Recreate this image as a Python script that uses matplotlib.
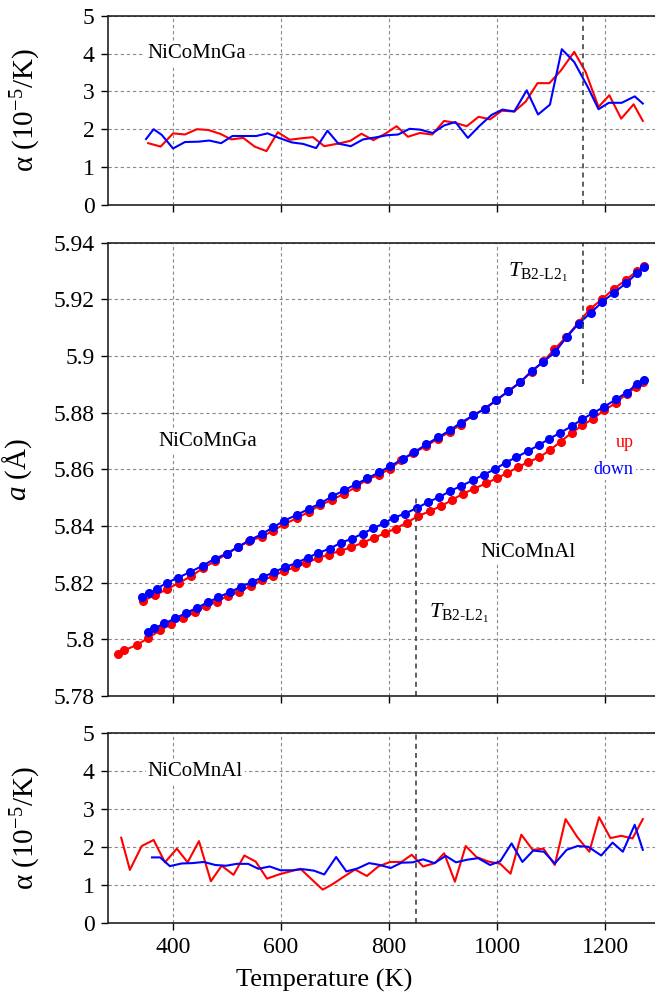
import matplotlib
matplotlib.use('Agg')
import matplotlib.pyplot as plt
from matplotlib.ticker import FormatStrFormatter

plt.rcParams['font.family'] = ['Liberation Serif', 'DejaVu Serif']
plt.rcParams['mathtext.fontset'] = 'custom'
plt.rcParams['mathtext.rm'] = 'Liberation Serif'
plt.rcParams['mathtext.it'] = 'Liberation Serif:italic'

# lattice parameter a (Angstrom), NiCoMnGa
ga_up_T = [344, 367, 388, 411, 433, 455, 477, 499, 520, 541, 564, 585, 606, 629, 651, 672, 694, 717, 738, 760,
           781, 801, 823, 845, 868, 890, 912, 933, 955, 977, 999, 1021, 1043, 1064, 1086, 1106, 1128, 1151, 1172, 1194,
           1217, 1238, 1259, 1272]
ga_up_a = [5.8136, 5.8156, 5.8176, 5.8200, 5.8222, 5.8251, 5.8275, 5.8301, 5.8325, 5.8347,
           5.8362, 5.8383, 5.8407, 5.8427, 5.8450, 5.8473, 5.8492, 5.8514, 5.8537, 5.8565,
           5.8580, 5.8602, 5.8632, 5.8658, 5.8681, 5.8708, 5.8732, 5.8758, 5.8790, 5.8814,
           5.8846, 5.8875, 5.8908, 5.8944, 5.8981, 5.9023, 5.9067, 5.9118, 5.9165, 5.9200,
           5.9238, 5.9267, 5.9300, 5.9317]
ga_down_T = [342, 356, 370, 388, 410, 432, 455, 477, 499, 520, 542, 564, 585, 606, 629, 652, 673, 695, 717, 738,
             760, 781, 801, 825, 847, 869, 891, 913, 933, 956, 978, 999, 1021, 1043, 1064, 1086, 1108, 1129, 1151, 1174,
             1195, 1217, 1239, 1260, 1272]
ga_down_a = [5.8149, 5.8162, 5.8179, 5.8199, 5.8218, 5.8238, 5.8260, 5.8284, 5.8302, 5.8326,
             5.8350, 5.8371, 5.8395, 5.8419, 5.8439, 5.8461, 5.8480, 5.8505, 5.8526, 5.8547,
             5.8568, 5.8589, 5.8610, 5.8636, 5.8661, 5.8688, 5.8713, 5.8738, 5.8765, 5.8790,
             5.8814, 5.8844, 5.8876, 5.8907, 5.8947, 5.8980, 5.9015, 5.9067, 5.9114, 5.9153,
             5.9191, 5.9224, 5.9257, 5.9293, 5.9314]

# lattice parameter a (Angstrom), NiCoMnAl
al_up_T = [298, 310, 333, 354, 376, 396, 418, 440, 461, 481, 501, 523, 544, 564, 585, 606, 626, 647, 668, 688,
           709, 730, 751, 772, 792, 812, 833, 854, 875, 896, 916, 937, 958, 979, 1000, 1019, 1038, 1058, 1078, 1098,
           1118, 1138, 1158, 1178, 1198, 1220, 1240, 1258, 1271]
al_up_a = [5.7947, 5.7962, 5.7980, 5.8005, 5.8032, 5.8053, 5.8075, 5.8095, 5.8119, 5.8133,
           5.8153, 5.8168, 5.8189, 5.8208, 5.8223, 5.8242, 5.8254, 5.8270, 5.8287, 5.8299,
           5.8312, 5.8325, 5.8341, 5.8358, 5.8374, 5.8391, 5.8412, 5.8435, 5.8452, 5.8470,
           5.8491, 5.8514, 5.8532, 5.8550, 5.8569, 5.8587, 5.8607, 5.8626, 5.8642, 5.8668,
           5.8698, 5.8729, 5.8755, 5.8779, 5.8808, 5.8834, 5.8867, 5.8890, 5.8908]
al_down_T = [353, 365, 384, 404, 424, 445, 465, 484, 506, 526, 547, 567, 587, 607, 629, 649, 669, 690, 711, 731,
             751, 771, 791, 809, 830, 851, 873, 893, 913, 933, 955, 975, 996, 1016, 1036, 1057, 1077, 1097, 1117, 1138,
             1158, 1178, 1198, 1220, 1240, 1259, 1272]
al_down_a = [5.8027, 5.8039, 5.8056, 5.8074, 5.8093, 5.8112, 5.8131, 5.8149, 5.8167, 5.8186,
             5.8203, 5.8220, 5.8238, 5.8254, 5.8270, 5.8288, 5.8305, 5.8320, 5.8341, 5.8355,
             5.8373, 5.8392, 5.8410, 5.8429, 5.8444, 5.8463, 5.8485, 5.8502, 5.8523, 5.8541,
             5.8561, 5.8581, 5.8600, 5.8624, 5.8643, 5.8664, 5.8685, 5.8708, 5.8729, 5.8752,
             5.8777, 5.8799, 5.8820, 5.8847, 5.8871, 5.8900, 5.8914]

# thermal expansion alpha (1e-5/K), NiCoMnGa
ga_alpha_up_T = [354, 377, 400, 422, 444, 465, 487, 508, 530, 551, 573, 594, 616, 638, 659, 680, 706, 728, 749, 771,
                 793, 814, 835, 857, 880, 902, 922, 944, 966, 987, 1009, 1032, 1053, 1075, 1097, 1118, 1143, 1164,
                 1188, 1208, 1230, 1253, 1270]
ga_alpha_up = [1.63, 1.54, 1.89, 1.86, 2.00, 1.98, 1.88, 1.73, 1.77, 1.54,
               1.42, 1.92, 1.72, 1.76, 1.79, 1.55, 1.62, 1.69, 1.88, 1.71,
               1.88, 2.08, 1.80, 1.90, 1.86, 2.22, 2.17, 2.08, 2.33, 2.26,
               2.49, 2.47, 2.73, 3.22, 3.22, 3.55, 4.05, 3.52, 2.59, 2.90,
               2.28, 2.66, 2.22]
ga_alpha_down_T = [350, 364, 379, 400, 422, 447, 467, 489, 510, 532, 554, 575, 598, 620, 641, 665, 686, 706, 729, 752,
                   774, 796, 817, 838, 857, 881, 902, 923, 946, 967, 990, 1010, 1032, 1055, 1076, 1098, 1120, 1143,
                   1168, 1188, 1207, 1231, 1255, 1270]
ga_alpha_down = [1.74, 2.00, 1.85, 1.49, 1.66, 1.67, 1.70, 1.63, 1.82, 1.82,
                 1.82, 1.89, 1.76, 1.65, 1.61, 1.50, 1.96, 1.62, 1.55, 1.73,
                 1.78, 1.84, 1.86, 2.01, 1.99, 1.90, 2.10, 2.19, 1.77, 2.08,
                 2.38, 2.52, 2.47, 3.03, 2.39, 2.65, 4.12, 3.78, 3.12, 2.53,
                 2.70, 2.70, 2.87, 2.68]

# thermal expansion alpha (1e-5/K), NiCoMnAl
al_alpha_up_T = [304, 320, 342, 364, 385, 407, 427, 448, 470, 490, 512, 532, 553, 574, 596, 617, 636, 656, 677, 694,
                 715, 737, 759, 780, 802, 823, 842, 863, 885, 902, 922, 942, 962, 984, 1006, 1025, 1045, 1066, 1086,
                 1107, 1127, 1149, 1171, 1189, 1210, 1230, 1251, 1270]
al_alpha_up = [2.25, 1.40, 2.03, 2.19, 1.60, 1.96, 1.60, 2.16, 1.10, 1.51,
               1.27, 1.78, 1.62, 1.17, 1.28, 1.36, 1.43, 1.16, 0.88, 1.01,
               1.21, 1.41, 1.24, 1.49, 1.61, 1.61, 1.80, 1.49, 1.58, 1.84,
               1.09, 2.03, 1.74, 1.62, 1.56, 1.30, 2.33, 1.93, 1.96, 1.53,
               2.74, 2.26, 1.88, 2.79, 2.24, 2.30, 2.23, 2.74]
al_alpha_down_T = [361, 376, 394, 416, 436, 457, 478, 498, 518, 539, 558, 579, 599, 620, 640, 661, 680, 702, 721, 742,
                   763, 783, 803, 823, 844, 863, 884, 905, 924, 945, 965, 987, 1006, 1027, 1047, 1067, 1087, 1107,
                   1129, 1149, 1169, 1193, 1214, 1233, 1255, 1270]
al_alpha_down = [1.73, 1.73, 1.50, 1.57, 1.58, 1.61, 1.53, 1.51, 1.56, 1.56,
                 1.43, 1.49, 1.39, 1.39, 1.42, 1.38, 1.28, 1.74, 1.36, 1.44,
                 1.58, 1.53, 1.45, 1.59, 1.60, 1.68, 1.58, 1.77, 1.60, 1.67,
                 1.71, 1.53, 1.63, 2.10, 1.61, 1.91, 1.88, 1.57, 1.93, 2.03,
                 2.01, 1.78, 2.12, 1.88, 2.59, 1.93]

# B2-L21 transition temperatures (K)
T_ga = 1160
T_al = 850

RED = '#ff0000'
BLUE = '#0000ff'
GRID_LS = (0, (3, 2.5))
TICK_FS = 17
LABEL_FS = 19
YLABEL_FS = 21
BOX = dict(facecolor='white', edgecolor='none', pad=1.5)


def style_axis(ax):
    ax.set_xlim(280, 1300)
    ax.set_xticks([400, 600, 800, 1000, 1200])
    ax.grid(True, linestyle=GRID_LS, color='#8a8a8a', linewidth=0.8)
    ax.set_axisbelow(True)
    ax.tick_params(direction='out', length=5, width=1, labelsize=TICK_FS, pad=5)
    for side in ['left', 'bottom', 'top', 'right']:
        ax.spines[side].set_linewidth(1.2)
        ax.spines[side].set_color('#222222')


fig = plt.figure(figsize=(6.55, 9.99), dpi=100)
ax_top = fig.add_axes([0.1653, 0.7951, 0.8408, 0.1889])
ax_mid = fig.add_axes([0.1653, 0.3033, 0.8408, 0.4538])
ax_bot = fig.add_axes([0.1653, 0.0761, 0.8408, 0.1897])

for ax in [ax_top, ax_mid, ax_bot]:
    style_axis(ax)

# top: alpha of NiCoMnGa
ax_top.plot(ga_alpha_up_T, ga_alpha_up, color=RED, lw=1.5)
ax_top.plot(ga_alpha_down_T, ga_alpha_down, color=BLUE, lw=1.5)
ax_top.axvline(T_ga, color='#444444', linestyle=GRID_LS, lw=1.2)
ax_top.set_ylim(0, 5)
ax_top.set_yticks([0, 1, 2, 3, 4, 5])
ax_top.tick_params(labelbottom=False)
ax_top.text(444, 4, 'NiCoMnGa', fontsize=15, ha='center', va='center', bbox=BOX)
ax_top.set_ylabel('α (10$^{-5}$/K)', fontsize=YLABEL_FS)

# middle: lattice parameter
ax_mid.plot(ga_up_T, ga_up_a, color=RED, lw=1.5, marker='o', ms=5.5)
ax_mid.plot(ga_down_T, ga_down_a, color=BLUE, lw=1.5, marker='o', ms=5.5)
ax_mid.plot(al_up_T, al_up_a, color=RED, lw=1.5, marker='o', ms=5.5)
ax_mid.plot(al_down_T, al_down_a, color=BLUE, lw=1.5, marker='o', ms=5.5)
ax_mid.set_ylim(5.78, 5.94)
ax_mid.set_yticks([5.78, 5.80, 5.82, 5.84, 5.86, 5.88, 5.90, 5.92, 5.94])
ax_mid.yaxis.set_major_formatter(FormatStrFormatter('%g'))
ax_mid.tick_params(labelbottom=False)
ax_mid.axvline(T_ga, ymin=(5.89 - 5.78) / 0.16, ymax=1, color='#444444', linestyle=GRID_LS, lw=1.2)
ax_mid.axvline(T_al, ymin=0, ymax=(5.85 - 5.78) / 0.16, color='#444444', linestyle=GRID_LS, lw=1.2)
ax_mid.text(465, 5.8698, 'NiCoMnGa', fontsize=15, ha='center', va='center', bbox=BOX)
ax_mid.text(1058, 5.8306, 'NiCoMnAl', fontsize=15, ha='center', va='center', bbox=BOX)
ax_mid.text(1020, 5.9294, '$T_{\\mathrm{B2‐L2}_1}$', fontsize=16, ha='left', va='center', bbox=BOX)
ax_mid.text(874, 5.8093, '$T_{\\mathrm{B2‐L2}_1}$', fontsize=16, ha='left', va='center', bbox=BOX)
ax_mid.text(1253, 5.8693, 'up', color=RED, fontsize=13, ha='right', va='center', bbox=BOX)
ax_mid.text(1253, 5.8600, 'down', color=BLUE, fontsize=13, ha='right', va='center', bbox=BOX)
ax_mid.set_ylabel('$a$ (Å)', fontsize=YLABEL_FS)

# bottom: alpha of NiCoMnAl
ax_bot.plot(al_alpha_up_T, al_alpha_up, color=RED, lw=1.5)
ax_bot.plot(al_alpha_down_T, al_alpha_down, color=BLUE, lw=1.5)
ax_bot.axvline(T_al, color='#444444', linestyle=GRID_LS, lw=1.2)
ax_bot.set_ylim(0, 5)
ax_bot.set_yticks([0, 1, 2, 3, 4, 5])
ax_bot.text(441, 4, 'NiCoMnAl', fontsize=15, ha='center', va='center', bbox=BOX)
ax_bot.set_ylabel('α (10$^{-5}$/K)', fontsize=YLABEL_FS)
ax_bot.set_xlabel('Temperature (K)', fontsize=LABEL_FS)
ax_bot.xaxis.set_label_coords(0.392, -0.245)

ax_top.yaxis.set_label_coords(-0.118, 0.5)
ax_bot.yaxis.set_label_coords(-0.118, 0.5)
ax_mid.yaxis.set_label_coords(-0.135, 0.5)

fig.savefig('out.png', dpi=100)
